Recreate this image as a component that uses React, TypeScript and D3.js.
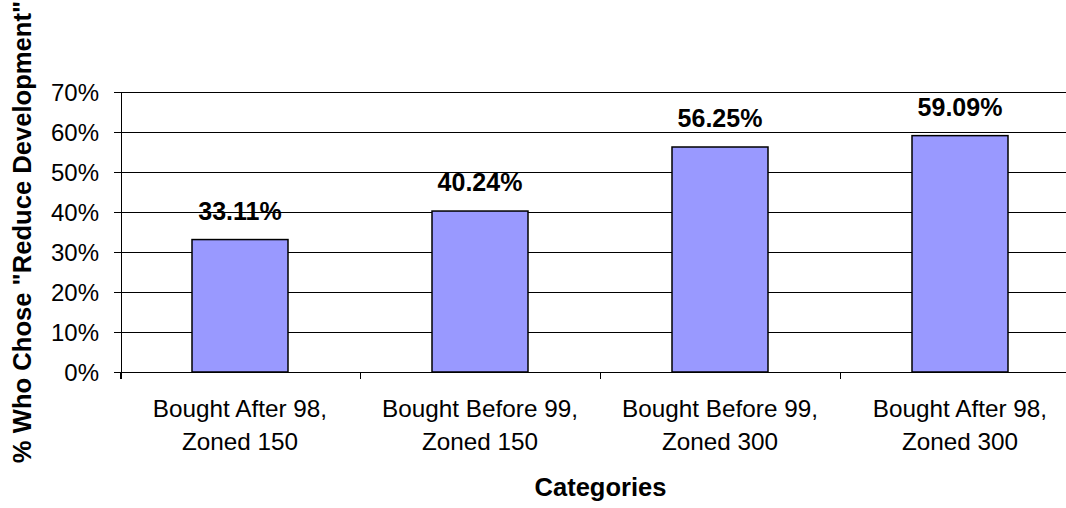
import React from "react";
import * as d3 from "d3";

// Share of respondents choosing "Reduce Development", by purchase timing and zoning
const categories: string[][] = [
  ["Bought After 98,", "Zoned 150"],
  ["Bought Before 99,", "Zoned 150"],
  ["Bought Before 99,", "Zoned 300"],
  ["Bought After 98,", "Zoned 300"],
];
const values: number[] = [33.11, 40.24, 56.25, 59.09];
const yTicks: number[] = [0, 10, 20, 30, 40, 50, 60, 70];

const W = 1066;
const H = 508;
const margin = { left: 121, right: -14, top: 92, bottom: 136 };
const FONT = "'Liberation Sans', Arial, Helvetica, sans-serif";

export default function App() {
  const x0 = margin.left;
  const x1 = W - margin.right;
  const y0 = H - margin.bottom;
  const y1 = margin.top;

  const x = d3
    .scaleBand<number>()
    .domain(d3.range(values.length))
    .range([x0 - 1, x1])
    .paddingInner(0.6)
    .paddingOuter(0.3);
  const band = d3.scaleBand<number>().domain(d3.range(values.length)).range([x0 - 1, x1]);
  const y = d3.scaleLinear().domain([0, 70]).range([y0, y1]);

  const boundaries = d3.range(values.length + 1).map((i) =>
    i < values.length ? (band(i) as number) : (band(values.length - 1) as number) + band.bandwidth()
  );

  return (
    <div style={{ position: "fixed", left: 0, top: 0 }}>
      <svg width={W} height={H} style={{ display: "block", background: "#fff" }} fontFamily={FONT}>
        {/* horizontal gridlines and y ticks */}
        {yTicks.map((t) => (
          <g key={t}>
            <line x1={x0 - 7} x2={x1} y1={Math.round(y(t)) + 0.5} y2={Math.round(y(t)) + 0.5} stroke="#000" strokeWidth={1} />
            <text x={99} y={y(t) + 8.5} textAnchor="end" fontSize={24} fill="#000">
              {t}%
            </text>
          </g>
        ))}
        {/* y axis */}
        <line x1={x0 + 0.5} x2={x0 + 0.5} y1={y1} y2={y0 + 7} stroke="#000" strokeWidth={1} />
        {/* category ticks */}
        {boundaries.map((b, i) => (
          <line key={i} x1={Math.round(b) + 0.5} x2={Math.round(b) + 0.5} y1={y0} y2={y0 + 7} stroke="#000" strokeWidth={1} />
        ))}
        {/* bars */}
        {values.map((v, i) => (
          <rect
            key={i}
            x={x(i)}
            y={y(v)}
            width={x.bandwidth()}
            height={y(0) - y(v)}
            fill="#9999FF"
            stroke="#000"
            strokeWidth={1.5}
          />
        ))}
        {/* value labels */}
        {values.map((v, i) => (
          <text
            key={i}
            x={(x(i) as number) + x.bandwidth() / 2}
            y={y(v) - 20}
            textAnchor="middle"
            fontSize={25}
            fontWeight="bold"
            fill="#000"
          >
            {v.toFixed(2)}%
          </text>
        ))}
        {/* category labels */}
        {categories.map((lines, i) => (
          <text key={i} x={(band(i) as number) + band.bandwidth() / 2} textAnchor="middle" fontSize={24.3} fill="#000">
            {lines.map((l, j) => (
              <tspan key={j} x={(band(i) as number) + band.bandwidth() / 2} y={417 + j * 33.3}>
                {l}
              </tspan>
            ))}
          </text>
        ))}
        {/* axis titles */}
        <text x={(x0 + x1) / 2} y={496} textAnchor="middle" fontSize={25.5} fontWeight="bold" fill="#000">
          Categories
        </text>
        <text
          transform={`translate(31, ${(y0 + y1) / 2}) rotate(-90)`}
          textAnchor="middle"
          fontSize={25.6}
          fontWeight="bold"
          fill="#000"
        >
          % Who Chose "Reduce Development"
        </text>
      </svg>
    </div>
  );
}
